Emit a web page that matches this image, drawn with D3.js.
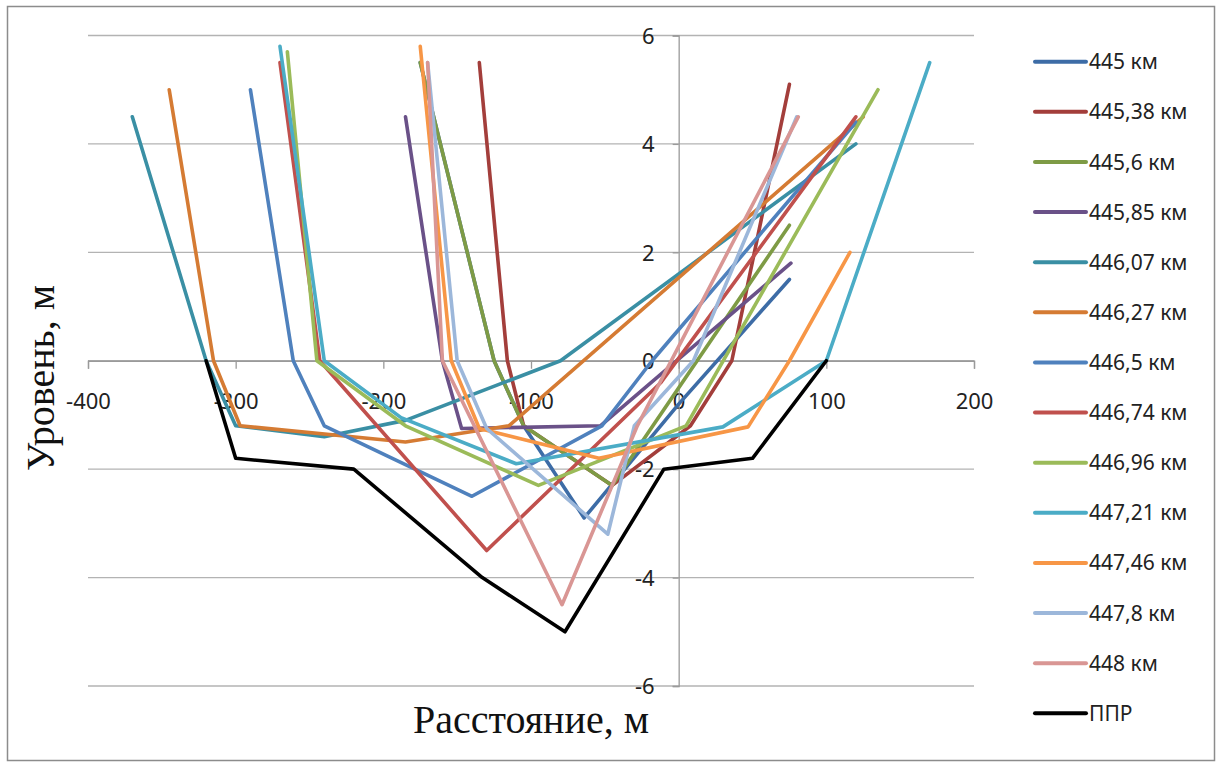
<!DOCTYPE html>
<html>
<head>
<meta charset="utf-8">
<script src="https://cdn.jsdelivr.net/npm/d3@7"></script>
<style>
  html, body { margin: 0; padding: 0; background: #ffffff; }
  svg { display: block; }
</style>
</head>
<body>
<svg id="chart" width="1222" height="765"></svg>
<script>
// ---- Data (x: distance, m; y: level, m) ----
const seriesNames = ["445 км","445,38 км","445,6 км","445,85 км","446,07 км","446,27 км","446,5 км",
                     "446,74 км","446,96 км","447,21 км","447,46 км","447,8 км","448 км","ППР"];

const s445    = [[-175,5.5],[-125,0],[-105,-1.2],[-64,-2.9],[0,-0.8],[75,1.5]];
const s445_38 = [[-135,5.5],[-116,0],[-105,-1.2],[-45,-2.3],[8,-1.2],[36,0],[75,5.1]];
const s445_6  = [[-175,5.5],[-125,0],[-105,-1.2],[-45,-2.3],[75,2.5]];
const s445_85 = [[-185,4.5],[-160,0],[-147,-1.25],[-53,-1.2],[76,1.8]];
const s446_07 = [[-370,4.5],[-320,0],[-300,-1.2],[-240,-1.4],[-185,-1.1],[-80,0],[120,4]];
const s446_27 = [[-345,5],[-315,0],[-297,-1.2],[-185,-1.5],[-115,-1.2],[125,4.5]];
const s446_5  = [[-290,5],[-261,0],[-240,-1.2],[-140,-2.5],[-52,-1.2],[-18,0],[120,4.4]];
const s446_74 = [[-270,5.5],[-243,0],[-130,-3.5],[-12,-0.4],[120,4.5]];
const s446_96 = [[-265,5.7],[-245,0],[-185,-1.2],[-95,-2.3],[5,-1.2],[135,5]];
const s447_21 = [[-270,5.8],[-240,0],[-188,-1.05],[-110,-1.9],[30,-1.22],[100,0],[170,5.5]];
const s447_46 = [[-175,5.8],[-154,0],[-135,-1.25],[-54,-1.8],[47,-1.22],[75,0],[116,2]];
const s447_8  = [[-170,5.5],[-150,0],[-130,-1.25],[-48,-3.2],[-30,-1.2],[10,0],[80,4.5]];
const s448    = [[-170,5.5],[-160,0],[-79,-4.5],[-28,-1.2],[81,4.5]];
const sPPR    = [[-320,0],[-300,-1.8],[-220,-2],[-133,-4],[-77,-5],[-10,-2],[50,-1.8],[100,0]];

const seriesValues = [s445, s445_38, s445_6, s445_85, s446_07, s446_27, s446_5,
                      s446_74, s446_96, s447_21, s447_46, s447_8, s448, sPPR];

const xTicks = [-400,-300,-200,-100,0,100,200];
const yTicks = [-6,-4,-2,0,2,4,6];
const xTitle = "Расстояние,  м";
const yTitle = "Уровень,  м";

// ---- Styles ----
const colors = ["#3D6CA6","#A33E3B","#7E9B45","#6A5188","#3A8FA4","#D57B33","#4F81BD",
                "#C0504D","#9BBB59","#4BACC6","#F79646","#9CB7DA","#D99694","#000000"];

const svg = d3.select("#chart");
const x = d3.scaleLinear().domain([-400,200]).range([88,974]);
const y = d3.scaleLinear().domain([-6,6]).range([686,35.5]);

// outer border
svg.append("rect").attr("x",7.5).attr("y",6.5).attr("width",1207).attr("height",754)
  .attr("fill","#ffffff").attr("stroke","#8c8c8c").attr("stroke-width",1.5);

// horizontal gridlines
svg.append("g").selectAll("line").data(yTicks).join("line")
  .attr("x1",x(-400)).attr("x2",x(200))
  .attr("y1",d=>y(d)).attr("y2",d=>y(d))
  .attr("stroke","#b3b3b3").attr("stroke-width",1.3);

// x axis at y=0
const xAxis = d3.axisBottom(x).tickValues(xTicks).tickSize(8).tickFormat(d3.format("d"));
const gx = svg.append("g").attr("transform",`translate(0,${y(0)})`).call(xAxis);
gx.select(".domain").attr("stroke","#9a9a9a").attr("stroke-width",1.3);
gx.selectAll(".tick line").attr("stroke","#9a9a9a").attr("stroke-width",1.3);
gx.selectAll(".tick text").attr("font-family","'Noto Sans', sans-serif").attr("font-size",22)
  .attr("fill","#222").attr("dy",0).attr("y",48).text(d=>d3.format("d")(d).replace("−","-"));

// y axis at x=0
const yAxis = d3.axisLeft(y).tickValues(yTicks).tickSize(6).tickFormat(d3.format("d"));
const gy = svg.append("g").attr("transform",`translate(${x(0)},0)`).call(yAxis);
gy.select(".domain").attr("stroke","#9a9a9a").attr("stroke-width",1.3);
gy.selectAll(".tick line").attr("stroke","#9a9a9a").attr("stroke-width",1.3);
gy.selectAll(".tick text").attr("font-family","'Noto Sans', sans-serif").attr("font-size",22)
  .attr("fill","#222").attr("x",-24).attr("dy","0.35em").text(d=>d3.format("d")(d).replace("−","-"));

// series lines
const line = d3.line().x(d=>x(d[0])).y(d=>y(d[1]));
svg.append("g").selectAll("path").data(seriesValues).join("path")
  .attr("d",line).attr("fill","none")
  .attr("stroke",(d,i)=>colors[i]).attr("stroke-width",3.6)
  .attr("stroke-linejoin","round").attr("stroke-linecap","round");

// legend
const lg = svg.append("g");
const ly = d3.scaleLinear().domain([0,seriesNames.length-1]).range([61.7,713.3]);
seriesNames.forEach((name,i)=>{
  lg.append("line").attr("x1",1035).attr("x2",1086).attr("y1",ly(i)).attr("y2",ly(i))
    .attr("stroke",colors[i]).attr("stroke-width",4).attr("stroke-linecap","round");
  lg.append("text").attr("x",1089).attr("y",ly(i)).attr("dy","0.36em")
    .attr("font-family","'Noto Sans', sans-serif").attr("font-size",21).attr("fill","#222")
    .text(name);
});

// axis titles
svg.append("text").attr("x",(x(-400)+x(200))/2).attr("y",733)
  .attr("text-anchor","middle").attr("font-family","'Liberation Serif', 'Times New Roman', serif")
  .attr("font-size",40).attr("fill","#111").text(xTitle);
svg.append("text").attr("transform","translate(54,378) rotate(-90)")
  .attr("text-anchor","middle").attr("font-family","'Liberation Serif', 'Times New Roman', serif")
  .attr("font-size",40).attr("fill","#111").text(yTitle);
</script>
</body>
</html>
